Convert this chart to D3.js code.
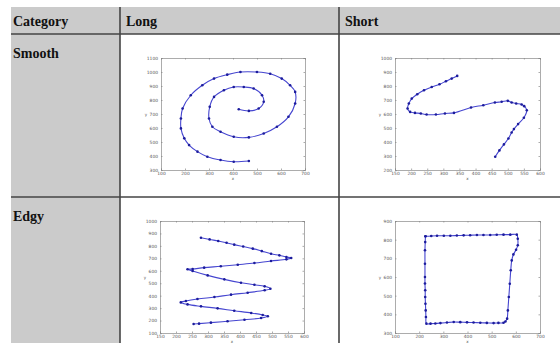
<!DOCTYPE html>
<html>
<head>
<meta charset="utf-8">
<script src="https://cdnjs.cloudflare.com/ajax/libs/d3/7.8.5/d3.min.js"></script>
<style>
  body { margin: 0; background: #fff; }
  svg { display: block; }
  .cell-text { font-family: "Liberation Serif", "Times New Roman", serif; font-weight: bold; font-size: 14px; fill: #111; }
  .axis text { font-family: "DejaVu Sans", sans-serif; font-size: 4.4px; fill: #555; }
  .axis path, .axis line { stroke: #888; stroke-width: 0.7; }
  .axis-label { font-family: "DejaVu Sans", sans-serif; font-size: 4px; fill: #555; }
</style>
</head>
<body>
<svg id="chart" width="560" height="343"></svg>
<script>
// table text
var headers = ["Category", "Long", "Short"];
var categories = ["Smooth", "Edgy"];

// Smooth / Long (spiral)
var smoothLongX = [424, 466, 507, 528, 521, 486, 445, 403, 362, 321, 303, 300, 314, 348, 403, 466, 528, 583, 631, 659, 659, 638, 603, 555, 500, 431, 376, 321, 272, 224, 190, 183, 183, 197, 217, 252, 293, 348, 403, 466];
var smoothLongY = [734, 722, 739, 787, 834, 882, 893, 893, 870, 822, 751, 668, 609, 573, 537, 533, 561, 609, 680, 775, 858, 905, 953, 988, 1000, 1000, 981, 953, 905, 834, 739, 668, 597, 526, 478, 431, 395, 371, 359, 364];
var smoothLongXTicks = [100, 200, 300, 400, 500, 600, 700];
var smoothLongYTicks = [300, 400, 500, 600, 700, 800, 900, 1000, 1100];

// Smooth / Short (hook)
var smoothShortX = [343, 326, 308, 288, 264, 240, 219, 202, 193, 189, 197, 212, 230, 248, 277, 305, 333, 386, 424, 460, 481, 500, 512, 526, 543, 551, 559, 550, 532, 519, 512, 502, 488, 474, 461];
var smoothShortY = [872, 853, 834, 812, 793, 770, 741, 710, 675, 639, 615, 608, 604, 596, 596, 604, 608, 646, 663, 682, 687, 694, 682, 675, 668, 656, 627, 573, 528, 492, 468, 425, 383, 340, 295];
var smoothShortXTicks = [150, 200, 250, 300, 350, 400, 450, 500, 550, 600];
var smoothShortYTicks = [200, 300, 400, 500, 600, 700, 800, 900, 1000];

// Edgy / Long (zigzag)
var edgyLongX = [278, 305, 332, 358, 382, 410, 440, 468, 497, 523, 545, 560, 545, 497, 445, 393, 340, 288, 252, 236, 252, 299, 351, 403, 445, 477, 495, 477, 424, 372, 320, 267, 231, 215, 236, 278, 330, 382, 435, 471, 487, 466, 414, 361, 309, 272, 255];
var edgyLongY = [866, 852, 839, 825, 810, 795, 778, 758, 737, 724, 711, 703, 692, 679, 662, 649, 636, 625, 614, 612, 598, 563, 531, 504, 488, 475, 456, 443, 424, 408, 389, 373, 357, 346, 330, 314, 298, 279, 261, 245, 234, 220, 207, 194, 183, 175, 172];
var edgyLongXTicks = [150, 200, 250, 300, 350, 400, 450, 500, 550, 600];
var edgyLongYTicks = [100, 200, 300, 400, 500, 600, 700, 800, 900, 1000];

// Edgy / Short (square)
var edgyShortX = [226, 250, 274, 302, 329, 356, 384, 411, 439, 466, 494, 521, 549, 577, 604, 608, 608, 601, 590, 583, 579, 575, 571, 567, 564, 557, 549, 528, 508, 480, 453, 425, 398, 370, 343, 315, 288, 267, 247, 230, 228, 227, 226, 225, 225, 224, 224, 224, 224, 225, 226];
var edgyShortY = [818, 820, 821, 821, 821, 822, 823, 824, 825, 825, 825, 826, 827, 827, 827, 805, 770, 746, 721, 689, 636, 564, 493, 421, 377, 362, 355, 354, 353, 354, 355, 356, 357, 358, 359, 356, 353, 351, 350, 350, 386, 421, 457, 493, 529, 565, 600, 671, 743, 787, 818];
var edgyShortXTicks = [100, 200, 300, 400, 500, 600, 700];
var edgyShortYTicks = [300, 400, 500, 600, 700, 800, 900];

var svg = d3.select("#chart");

// table layout
var tableLeft = 11, tableRight = 560, tableTop = 7, tableBottom = 343;
var colX = [11, 120, 339];
var headerBottom = 34, rowSplit = 197;

svg.append("rect")
    .attr("x", tableLeft).attr("y", tableTop)
    .attr("width", tableRight - tableLeft).attr("height", headerBottom - tableTop)
    .attr("fill", "#cbcbcb");
svg.append("rect")
    .attr("x", colX[0]).attr("y", headerBottom)
    .attr("width", colX[1] - colX[0]).attr("height", tableBottom - headerBottom)
    .attr("fill", "#cbcbcb");

[headerBottom, rowSplit].forEach(function (y) {
    svg.append("line")
        .attr("x1", tableLeft).attr("x2", tableRight)
        .attr("y1", y).attr("y2", y)
        .attr("stroke", "#444").attr("stroke-width", 1.6);
});
[colX[1], colX[2]].forEach(function (x) {
    svg.append("line")
        .attr("x1", x).attr("x2", x)
        .attr("y1", tableTop).attr("y2", tableBottom)
        .attr("stroke", "#444").attr("stroke-width", 1.6);
});

var headerX = [13, 126, 345];
headers.forEach(function (h, i) {
    svg.append("text").attr("class", "cell-text")
        .attr("x", headerX[i]).attr("y", 26).text(h);
});
var catY = [58, 221];
categories.forEach(function (c, i) {
    svg.append("text").attr("class", "cell-text")
        .attr("x", 13).attr("y", catY[i]).text(c);
});

function drawPlot(box, xs, ys, xTicks, yTicks) {
    var g = svg.append("g");
    var x = d3.scaleLinear()
        .domain([xTicks[0], xTicks[xTicks.length - 1]])
        .range([box.left, box.right]);
    var y = d3.scaleLinear()
        .domain([yTicks[0], yTicks[yTicks.length - 1]])
        .range([box.bottom, box.top]);

    g.append("rect")
        .attr("x", box.left).attr("y", box.top)
        .attr("width", box.right - box.left).attr("height", box.bottom - box.top)
        .attr("fill", "#fff");

    g.append("g").attr("class", "axis")
        .attr("transform", "translate(0," + box.bottom + ")")
        .call(d3.axisBottom(x).tickValues(xTicks).tickSize(-1.5).tickPadding(1.5).tickFormat(d3.format("d")));
    g.append("g").attr("class", "axis")
        .attr("transform", "translate(0," + box.top + ")")
        .call(d3.axisTop(x).tickValues(xTicks).tickSize(-1.5).tickFormat(""));
    g.append("g").attr("class", "axis")
        .attr("transform", "translate(" + box.left + ",0)")
        .call(d3.axisLeft(y).tickValues(yTicks).tickSize(-1.5).tickPadding(3).tickFormat(d3.format("d")));
    g.append("g").attr("class", "axis")
        .attr("transform", "translate(" + box.right + ",0)")
        .call(d3.axisRight(y).tickValues(yTicks).tickSize(-1.5).tickFormat(""));

    g.selectAll(".axis .domain").attr("stroke", "#999");

    g.append("text").attr("class", "axis-label")
        .attr("x", (box.left + box.right) / 2).attr("y", box.bottom + 9.8)
        .attr("text-anchor", "middle").text("x");
    g.append("text").attr("class", "axis-label")
        .attr("x", box.left - 15).attr("y", (box.top + box.bottom) / 2 + 1.5)
        .attr("text-anchor", "middle").text("y");

    var pts = xs.map(function (d, i) { return [d, ys[i]]; });
    var line = d3.line()
        .x(function (d) { return x(d[0]); })
        .y(function (d) { return y(d[1]); })
        .curve(d3.curveCatmullRom);

    g.append("path")
        .datum(pts)
        .attr("fill", "none")
        .attr("stroke", "#4646d0")
        .attr("stroke-width", 1.1)
        .attr("d", line);

    g.selectAll("circle.pt")
        .data(pts)
        .enter().append("circle")
        .attr("class", "pt")
        .attr("cx", function (d) { return x(d[0]); })
        .attr("cy", function (d) { return y(d[1]); })
        .attr("r", 1.3)
        .attr("fill", "#1c1c9c");
}

drawPlot({ left: 161, right: 305, top: 58, bottom: 170 }, smoothLongX, smoothLongY, smoothLongXTicks, smoothLongYTicks);
drawPlot({ left: 395, right: 540, top: 58, bottom: 170 }, smoothShortX, smoothShortY, smoothShortXTicks, smoothShortYTicks);
drawPlot({ left: 160, right: 304, top: 221, bottom: 333 }, edgyLongX, edgyLongY, edgyLongXTicks, edgyLongYTicks);
drawPlot({ left: 395, right: 540, top: 221, bottom: 333 }, edgyShortX, edgyShortY, edgyShortXTicks, edgyShortYTicks);
</script>
</body>
</html>
